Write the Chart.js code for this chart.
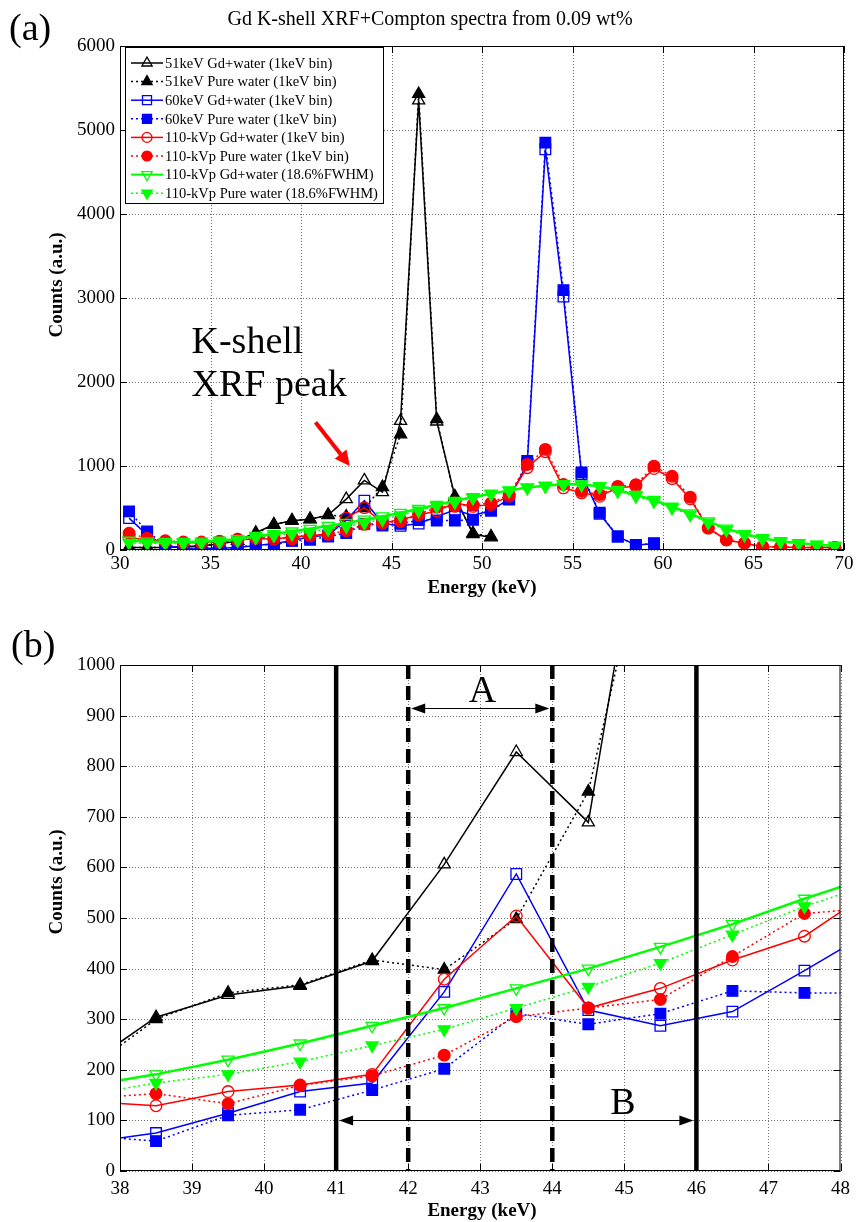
<!DOCTYPE html>
<html>
<head>
<meta charset="utf-8">
<script src="https://cdn.jsdelivr.net/npm/chart.js@4.4.1/dist/chart.umd.min.js"></script>
<style>
  html, body { margin: 0; padding: 0; background: #fff; }
  #wrap { position: relative; width: 857px; height: 1222px; }
  .box { position: absolute; left: 0; }
  #boxA { top: 0; }
  #boxB { top: 610px; }
</style>
</head>
<body>
<div id="wrap">
  <div class="box" id="boxA"><canvas id="chartA" width="857" height="610"></canvas></div>
  <div class="box" id="boxB"><canvas id="chartB" width="857" height="612"></canvas></div>
</div>
<script>
// bin centres (keV), 1 keV bins
const energy = [30.5, 31.5, 32.5, 33.5, 34.5, 35.5, 36.5, 37.5, 38.5, 39.5,
  40.5, 41.5, 42.5, 43.5, 44.5, 45.5, 46.5, 47.5, 48.5, 49.5,
  50.5, 51.5, 52.5, 53.5, 54.5, 55.5, 56.5, 57.5, 58.5, 59.5,
  60.5, 61.5, 62.5, 63.5, 64.5, 65.5, 66.5, 67.5, 68.5, 69.5];

// 51 keV beam (30.5 - 50.5 keV)
const gdWater51 = [30, 30, 30, 40, 50, 70, 110, 205, 304, 348, 366, 415, 606, 828, 689, 1537, 5353, 1530, 640, 190, 150];
const pureWater51 = [30, 30, 30, 40, 50, 70, 110, 195, 300, 352, 368, 417, 398, 498, 750, 1377, 5429, 1557, 620, 200, 160];

// 60 keV beam (30.5 - 59.5 keV)
const gdWater60 = [380, 180, 50, 25, 20, 20, 30, 55, 75, 114, 157, 174, 354, 587, 318, 287, 315, 396, 480, 410,
  470, 610, 1030, 4770, 3016, 900, 430, 160, 60, 75];
const pureWater60 = [460, 220, 60, 20, 10, 15, 25, 70, 59, 110, 121, 160, 202, 311, 290, 311, 356, 352, 352, 360,
  470, 600, 1060, 4850, 3094, 922, 443, 160, 60, 80];

// 110 kVp beam, 1 keV bins
const gdWater110 = [150, 120, 100, 85, 85, 95, 115, 138, 129, 157, 170, 191, 379, 504, 322, 361, 417, 464, 560, 520,
  540, 640, 980, 1170, 740, 680, 640, 740, 760, 970, 850, 610, 260, 120, 80, 40, 35, 30, 30, 30];
const pureWater110 = [200, 140, 110, 95, 95, 105, 130, 143, 153, 133, 169, 188, 229, 305, 322, 339, 424, 509, 520, 540,
  560, 660, 1018, 1198, 780, 700, 660, 758, 778, 998, 878, 630, 263, 120, 80, 40, 38, 30, 30, 30];

// 110 kVp beam, 18.6% FWHM detector
const gdWater110Fwhm = [110, 100, 95, 95, 100, 110, 130, 168, 191, 220, 252, 287, 322, 361, 400, 443, 488, 538, 585, 630,
  670, 710, 745, 765, 785, 780, 760, 715, 655, 595, 515, 435, 340, 255, 190, 140, 105, 82, 63, 50];
const pureWater110Fwhm = [85, 80, 78, 80, 85, 95, 115, 150, 174, 191, 216, 248, 280, 322, 364, 411, 467, 523, 570, 620,
  665, 705, 740, 760, 780, 775, 755, 700, 640, 580, 500, 420, 325, 240, 180, 132, 100, 80, 60, 48];

const seriesLabels = [
  '51keV Gd+water (1keV bin)',
  '51keV Pure water (1keV bin)',
  '60keV Gd+water (1keV bin)',
  '60keV Pure water (1keV bin)',
  '110-kVp Gd+water (1keV bin)',
  '110-kVp Pure water (1keV bin)',
  '110-kVp Gd+water (18.6%FWHM)',
  '110-kVp Pure water (18.6%FWHM)'
];
const seriesValues = [gdWater51, pureWater51, gdWater60, pureWater60, gdWater110, pureWater110, gdWater110Fwhm, pureWater110Fwhm];

// panel (b) windows (keV) and arrow heights (counts)
const windowA = [42, 44];
const windowB = [41, 46];
const arrowCountsA = 915;
const arrowCountsB = 100;

const looks = [
  { color: '#000000', width: 1.5, dash: [], marker: 'triangle', rotation: 0, radius: 7, filled: false },
  { color: '#000000', width: 1.5, dash: [2, 3], marker: 'triangle', rotation: 0, radius: 7, filled: true },
  { color: '#0000ff', width: 1.5, dash: [], marker: 'rect', rotation: 0, radius: 7.5, filled: false },
  { color: '#0000ff', width: 1.5, dash: [2, 3], marker: 'rect', rotation: 0, radius: 7.5, filled: true },
  { color: '#ff0000', width: 1.5, dash: [], marker: 'circle', rotation: 0, radius: 5.8, filled: false },
  { color: '#ff0000', width: 1.5, dash: [2, 3], marker: 'circle', rotation: 0, radius: 5.8, filled: true },
  { color: '#00ff00', width: 2.5, dash: [], marker: 'triangle', rotation: 180, radius: 7, filled: false },
  { color: '#00ff00', width: 1.5, dash: [2, 3], marker: 'triangle', rotation: 180, radius: 7, filled: true }
];

const SERIF = '"Liberation Serif", "Times New Roman", serif';
const tickFont = { family: SERIF, size: 19 };

function buildDatasets() {
  return seriesValues.map((vals, i) => {
    const look = looks[i];
    return {
      label: seriesLabels[i],
      data: vals.map((v, k) => ({ x: energy[k], y: v })),
      borderColor: look.color,
      borderWidth: look.width,
      borderDash: look.dash,
      pointStyle: look.marker,
      pointRotation: look.rotation,
      pointRadius: look.radius,
      pointHoverRadius: look.radius,
      pointBorderWidth: 1.3,
      pointBorderColor: look.color,
      pointBackgroundColor: look.filled ? look.color : 'rgba(0,0,0,0)',
      fill: false,
      tension: 0,
      order: seriesValues.length - 1 - i
    };
  });
}

function buildScales(xMin, xMax, xStep, yMax, yStep, xHeight, xPad) {
  return {
    x: {
      type: 'linear', min: xMin, max: xMax,
      ticks: { stepSize: xStep, font: tickFont, color: '#000', padding: xPad, maxRotation: 0, autoSkip: false, callback: (v) => String(v) },
      grid: { display: false, drawTicks: false }, border: { display: false },
      afterFit: (s) => { s.height = xHeight; }
    },
    y: {
      type: 'linear', min: 0, max: yMax,
      ticks: { stepSize: yStep, font: tickFont, color: '#000', padding: 5, callback: (v) => String(v) },
      grid: { display: false, drawTicks: false }, border: { display: false },
      afterFit: (s) => { s.width = 120; }
    }
  };
}

// dotted grid under the data, box and inward ticks over it
const framePlugin = {
  id: 'frame',
  beforeDatasetsDraw(chart) {
    const { ctx, chartArea: a, scales: { x, y } } = chart;
    ctx.save();
    ctx.strokeStyle = 'rgba(0,0,0,0.55)';
    ctx.lineWidth = 1;
    ctx.setLineDash([1, 2]);
    x.ticks.forEach((t) => {
      const px = Math.round(x.getPixelForValue(t.value)) + 0.5;
      ctx.beginPath(); ctx.moveTo(px, a.top); ctx.lineTo(px, a.bottom); ctx.stroke();
    });
    y.ticks.forEach((t) => {
      const py = Math.round(y.getPixelForValue(t.value)) + 0.5;
      ctx.beginPath(); ctx.moveTo(a.left, py); ctx.lineTo(a.right, py); ctx.stroke();
    });
    ctx.restore();
  },
  afterDatasetsDraw(chart) {
    const { ctx, chartArea: a, scales: { x, y } } = chart;
    ctx.save();
    ctx.strokeStyle = '#000';
    ctx.lineWidth = 1;
    ctx.setLineDash([]);
    ctx.strokeRect(a.left + 0.5, a.top + 0.5, a.right - a.left - 1, a.bottom - a.top - 1);
    const len = 7;
    ctx.beginPath();
    x.ticks.forEach((t) => {
      const px = Math.round(x.getPixelForValue(t.value)) + 0.5;
      ctx.moveTo(px, a.bottom); ctx.lineTo(px, a.bottom - len);
      ctx.moveTo(px, a.top); ctx.lineTo(px, a.top + len);
    });
    y.ticks.forEach((t) => {
      const py = Math.round(y.getPixelForValue(t.value)) + 0.5;
      ctx.moveTo(a.left, py); ctx.lineTo(a.left + len, py);
      ctx.moveTo(a.right, py); ctx.lineTo(a.right - len, py);
    });
    ctx.stroke();
    ctx.restore();
  }
};

function arrowHead(ctx, tipX, tipY, angle, len, half) {
  const bx = tipX - len * Math.cos(angle);
  const by = tipY - len * Math.sin(angle);
  ctx.beginPath();
  ctx.moveTo(tipX, tipY);
  ctx.lineTo(bx + half * Math.sin(angle), by - half * Math.cos(angle));
  ctx.lineTo(bx - half * Math.sin(angle), by + half * Math.cos(angle));
  ctx.closePath();
  ctx.fill();
}

function drawMarker(ctx, look, cx, cy) {
  const r = look.radius;
  ctx.beginPath();
  if (look.marker === 'triangle') {
    let rad = look.rotation * Math.PI / 180;
    ctx.moveTo(cx + Math.sin(rad) * r, cy - Math.cos(rad) * r);
    rad += 2 * Math.PI / 3;
    ctx.lineTo(cx + Math.sin(rad) * r, cy - Math.cos(rad) * r);
    rad += 2 * Math.PI / 3;
    ctx.lineTo(cx + Math.sin(rad) * r, cy - Math.cos(rad) * r);
    ctx.closePath();
  } else if (look.marker === 'rect') {
    const s = Math.SQRT1_2 * r;
    ctx.rect(cx - s, cy - s, 2 * s, 2 * s);
  } else {
    ctx.arc(cx, cy, r, 0, Math.PI * 2);
  }
  if (look.filled) { ctx.fillStyle = look.color; ctx.fill(); }
  ctx.strokeStyle = look.color;
  ctx.lineWidth = 1.3;
  ctx.stroke();
}

const legendPlugin = {
  id: 'boxLegend',
  afterDraw(chart) {
    const { ctx, chartArea: a } = chart;
    const left = a.left + 5, top = a.top + 1, w = 258, h = 156;
    ctx.save();
    ctx.fillStyle = '#fff';
    ctx.fillRect(left, top, w, h);
    ctx.strokeStyle = '#000';
    ctx.lineWidth = 1;
    ctx.setLineDash([]);
    ctx.strokeRect(left + 0.5, top + 0.5, w, h);
    ctx.font = '14.5px ' + SERIF;
    ctx.textBaseline = 'middle';
    seriesLabels.forEach((label, i) => {
      const look = looks[i];
      const yy = top + 16 + i * 18.6;
      ctx.strokeStyle = look.color;
      ctx.lineWidth = Math.min(look.width, 2);
      ctx.setLineDash(look.dash);
      ctx.beginPath(); ctx.moveTo(left + 6, yy); ctx.lineTo(left + 38, yy); ctx.stroke();
      ctx.setLineDash([]);
      drawMarker(ctx, Object.assign({}, look, { radius: look.radius * 0.85 }), left + 22, yy);
      ctx.fillStyle = '#000';
      ctx.fillText(label, left + 40, yy + 1);
    });
    ctx.restore();
  }
};

function drawAxisTitles(chart, xCenter, xMid, yCenterX, yCenterY) {
  const { ctx } = chart;
  ctx.save();
  ctx.fillStyle = '#000';
  ctx.font = 'bold 19px ' + SERIF;
  ctx.textAlign = 'center';
  ctx.textBaseline = 'middle';
  ctx.fillText('Energy (keV)', xCenter, xMid);
  ctx.translate(yCenterX, yCenterY);
  ctx.rotate(-Math.PI / 2);
  ctx.fillText('Counts (a.u.)', 0, 0);
  ctx.restore();
}

const textPluginA = {
  id: 'textA',
  afterDraw(chart) {
    const { ctx, scales: { x, y } } = chart;
    drawAxisTitles(chart, 482, 588, 57, 285);
    ctx.save();
    ctx.fillStyle = '#000';
    ctx.textBaseline = 'middle';
    ctx.font = '20px ' + SERIF;
    ctx.textAlign = 'center';
    ctx.fillText('Gd K-shell XRF+Compton spectra from 0.09 wt%', 430, 20);
    ctx.textAlign = 'left';
    ctx.font = '38px ' + SERIF;
    ctx.fillText('(a)', 9, 30);
    // annotation text and arrow
    ctx.textBaseline = 'alphabetic';
    ctx.font = '38px ' + SERIF;
    ctx.fillText('K-shell', x.getPixelForValue(33.95), y.getPixelForValue(2350));
    ctx.fillText('XRF peak', x.getPixelForValue(33.95), y.getPixelForValue(1830));
    const x0 = x.getPixelForValue(40.8), y0 = y.getPixelForValue(1520);
    const x1 = x.getPixelForValue(42.7), y1 = y.getPixelForValue(1000);
    const ang = Math.atan2(y1 - y0, x1 - x0);
    ctx.strokeStyle = '#ff0000';
    ctx.fillStyle = '#ff0000';
    ctx.lineWidth = 4;
    ctx.beginPath();
    ctx.moveTo(x0, y0);
    ctx.lineTo(x1 - 12 * Math.cos(ang), y1 - 12 * Math.sin(ang));
    ctx.stroke();
    arrowHead(ctx, x1, y1, ang, 15, 7.5);
    ctx.restore();
  }
};

const textPluginB = {
  id: 'textB',
  afterDatasetsDraw(chart) {
    const { ctx, chartArea: a, scales: { x, y } } = chart;
    ctx.save();
    ctx.strokeStyle = '#000';
    ctx.fillStyle = '#000';
    ctx.lineWidth = 4.5;
    windowB.forEach((e) => {
      const px = x.getPixelForValue(e);
      ctx.setLineDash([]);
      ctx.beginPath(); ctx.moveTo(px, a.top); ctx.lineTo(px, a.bottom); ctx.stroke();
    });
    windowA.forEach((e) => {
      const px = x.getPixelForValue(e);
      ctx.setLineDash([14, 7]);
      ctx.beginPath(); ctx.moveTo(px, a.top); ctx.lineTo(px, a.bottom); ctx.stroke();
    });
    ctx.setLineDash([]);
    ctx.lineWidth = 1;
    [[windowA, arrowCountsA], [windowB, arrowCountsB]].forEach(([win, level]) => {
      const xl = x.getPixelForValue(win[0]) + 3, xr = x.getPixelForValue(win[1]) - 3;
      const py = Math.round(y.getPixelForValue(level)) + 0.5;
      ctx.beginPath(); ctx.moveTo(xl + 10, py); ctx.lineTo(xr - 10, py); ctx.stroke();
      arrowHead(ctx, xl, py, Math.PI, 14, 5);
      arrowHead(ctx, xr, py, 0, 14, 5);
    });
    ctx.font = '38px ' + SERIF;
    ctx.textAlign = 'center';
    ctx.textBaseline = 'alphabetic';
    ctx.fillText('A', x.getPixelForValue(43.03), y.getPixelForValue(926));
    ctx.fillText('B', x.getPixelForValue(44.98), y.getPixelForValue(113));
    ctx.restore();
  },
  afterDraw(chart) {
    drawAxisTitles(chart, 482, 601, 57, 272);
    const { ctx } = chart;
    ctx.save();
    ctx.fillStyle = '#000';
    ctx.font = '38px ' + SERIF;
    ctx.textBaseline = 'middle';
    ctx.fillText('(b)', 11, 37);
    ctx.restore();
  }
};

const commonOptions = (scales, top) => ({
  responsive: false,
  animation: false,
  layout: { padding: { top: top, right: 13, left: 0, bottom: 0 } },
  plugins: { legend: { display: false }, tooltip: { enabled: false }, title: { display: false } },
  events: [],
  scales: scales
});

new Chart(document.getElementById('chartA'), {
  type: 'line',
  data: { datasets: buildDatasets() },
  options: commonOptions(buildScales(30, 70, 5, 6000, 1000, 60, 3), 46),
  plugins: [framePlugin, legendPlugin, textPluginA]
});

new Chart(document.getElementById('chartB'), {
  type: 'line',
  data: { datasets: buildDatasets() },
  options: commonOptions(buildScales(38, 48, 1, 1000, 100, 51, 7), 55),
  plugins: [framePlugin, textPluginB]
});
</script>
</body>
</html>
